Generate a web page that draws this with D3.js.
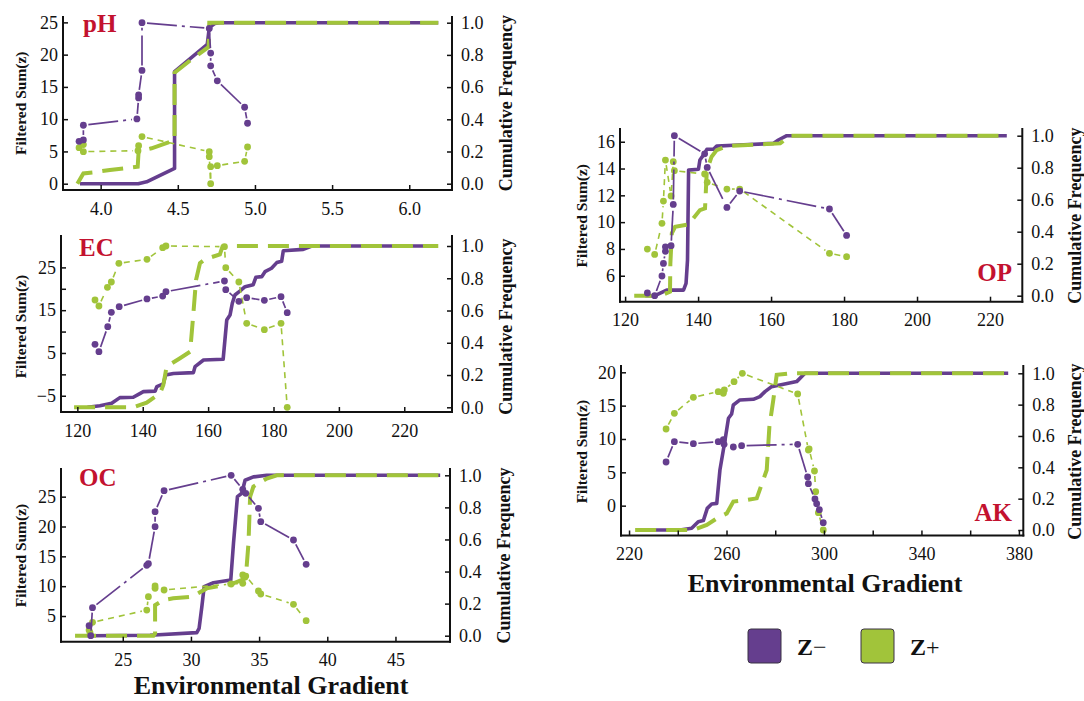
<!DOCTYPE html>
<html>
<head>
<meta charset="utf-8">
<script src="https://cdn.jsdelivr.net/npm/d3@7"></script>
<style>
  body { margin: 0; background: #fff; }
  text { font-family: "Liberation Serif", "Times New Roman", serif; }
</style>
</head>
<body>
<svg id="chart" width="1084" height="701"></svg>
<script>
// ---------- pH ----------
const phSumzMinus = [[3.86,6.57],[3.888,6.78],[3.888,9.06],[4.235,10.04],[4.246,13.3],[4.246,13.77],[4.268,17.55],[4.268,24.95],[4.704,24.07],[4.713,20.24],[4.713,18.27],[4.756,15.94],[4.933,11.85],[4.952,9.37]];
const phSumzPlus  = [[3.86,5.59],[3.888,6.06],[3.888,4.97],[4.242,5.12],[4.246,5.9],[4.268,7.3],[4.704,4.97],[4.704,4.19],[4.713,0.0],[4.713,2.64],[4.756,2.8],[4.933,3.47],[4.952,5.69]];
const phCfMinus = [[3.866,0],[4.244,0],[4.298,0.012],[4.479,0.095],[4.479,0.696],[4.691,0.865],[4.704,0.969],[4.741,0.996],[4.773,1],[6.188,1]];
const phCfPlus  = [[3.849,0],[3.888,0.064],[3.95,0.07],[4.06,0.085],[4.24,0.105],[4.246,0.2],[4.33,0.22],[4.479,0.27],[4.479,0.69],[4.6,0.78],[4.7,0.85],[4.704,1],[6.188,1]];
const phXTicks = [4.0, 4.5, 5.0, 5.5, 6.0];
const phYTicks = [0, 5, 10, 15, 20, 25];

// ---------- EC ----------
const ecSumzMinus = [[125.4,7.02],[126.6,5.3],[129.3,11.15],[130.4,14.5],[132.8,15.82],[141.3,17.62],[146.1,18.3],[147.1,19.33],[165.0,21.82],[165.4,19.8],[169.4,17.07],[171.8,17.93],[177.2,17.3],[182.3,18.16],[184.2,14.42]];
const ecSumzPlus  = [[125.4,17.38],[126.6,15.98],[129.2,20.34],[130.4,21.59],[132.7,25.95],[141.3,26.88],[146.1,29.61],[147.1,30.0],[165.0,29.84],[165.4,24.94],[169.4,21.59],[171.8,11.93],[177.2,10.45],[182.3,11.93],[184.2,-7.7]];
const ecCfMinus = [[123.1,0],[126.9,0.01],[130.5,0.025],[133.0,0.06],[137.1,0.062],[138.7,0.08],[140.2,0.097],[143.8,0.1],[144.3,0.128],[146.3,0.145],[147.0,0.2],[149.4,0.21],[155.5,0.215],[156.0,0.252],[158.6,0.293],[164.6,0.298],[165.7,0.541],[166.7,0.572],[167.4,0.645],[168.2,0.696],[169.7,0.72],[171.3,0.748],[173.8,0.76],[174.6,0.806],[176.4,0.81],[177.4,0.841],[179.4,0.862],[181.0,0.897],[182.5,0.905],[183.0,0.971],[189.1,0.979],[191.7,1],[226.8,1]];
const ecCfPlus  = [[119.0,0],[137.1,0],[141.2,0.029],[145.3,0.087],[146.3,0.138],[147.3,0.252],[151.4,0.304],[154.5,0.345],[155.5,0.583],[156.3,0.789],[157.5,0.893],[159.0,0.917],[163.6,0.948],[164.4,0.996],[165.7,1],[230.4,1]];
const ecXTicks = [120, 140, 160, 180, 200, 220];
const ecYTicks = [-5, 0, 5, 10, 15, 20, 25];
const ecYLabels = [-5, 5, 15, 25];

// ---------- OC ----------
const ocSumzMinus = [[22.53,3.38],[22.65,1.7],[22.78,6.4],[26.76,13.49],[26.88,13.77],[27.37,19.97],[27.37,22.49],[28.03,26.0],[32.95,28.58],[33.8,26.23],[34.02,25.56],[34.95,23.04],[35.12,20.81],[37.52,17.74],[38.45,13.66]];
const ocSumzPlus  = [[22.53,2.65],[22.6,2.2],[22.78,3.94],[26.76,6.0],[26.88,8.24],[27.37,9.64],[27.37,10.03],[28.03,9.36],[32.95,10.36],[33.8,10.47],[33.8,11.87],[34.02,11.7],[34.95,9.19],[35.12,8.69],[37.52,6.96],[38.45,4.22]];
const ocCfMinus = [[22.65,0],[27.0,0.003],[30.43,0.019],[30.6,0.046],[30.8,0.18],[30.97,0.306],[31.65,0.33],[32.92,0.347],[33.12,0.576],[33.41,0.867],[33.73,0.888],[33.97,0.969],[34.58,0.99],[35.56,1],[48.28,1]];
const ocCfPlus  = [[21.5,0],[27.25,0],[27.37,0.015],[27.37,0.19],[27.98,0.222],[28.7,0.233],[30.06,0.243],[31.16,0.295],[33.12,0.326],[34.02,0.358],[34.22,0.576],[34.34,0.867],[34.58,0.93],[35.56,0.98],[36.3,1],[48.15,1]];
const ocXTicks = [25, 30, 35, 40, 45];
const ocYTicks = [5, 10, 15, 20, 25];

// ---------- OP ----------
const opSumzMinus = [[126.1,4.71],[128.1,4.51],[130.1,5.98],[130.5,6.92],[131.05,7.82],[131.05,8.16],[132.6,8.24],[133.2,11.32],[133.5,16.45],[141.8,15.1],[142.5,14.08],[147.9,11.1],[151.4,12.32],[176.0,10.98],[180.7,9.01]];
const opSumzPlus  = [[126.1,7.99],[128.1,7.59],[130.1,9.91],[130.5,11.57],[131.05,14.63],[132.6,11.95],[133.2,14.51],[133.5,13.84],[141.8,13.59],[142.5,12.97],[147.9,12.47],[151.4,12.47],[176.0,7.67],[180.7,7.42]];
const opCfMinus = [[125.5,0],[128.2,0],[130.5,0.025],[131.4,0.035],[136.0,0.035],[136.7,0.077],[137.1,0.223],[137.4,0.785],[140.1,0.79],[140.5,0.848],[141.5,0.88],[142.4,0.915],[144.2,0.915],[145.1,0.935],[149.7,0.94],[160.6,0.952],[162.0,0.973],[164.3,1],[224.6,1]];
const opCfPlus  = [[122.5,0],[129.6,0],[132.3,0.025],[132.4,0.2],[132.8,0.39],[133.7,0.43],[137.8,0.448],[138.7,0.483],[140.5,0.535],[141.9,0.546],[142.4,0.785],[143.7,0.869],[145.1,0.91],[147.9,0.935],[158.8,0.948],[162.5,0.952],[165.2,1],[225.0,1]];
const opXTicks = [120, 140, 160, 180, 200, 220];
const opYTicks = [6, 8, 10, 12, 14, 16];

// ---------- AK ----------
const akSumzMinus = [[235.2,6.55],[238.6,9.6],[246.4,9.3],[256.6,9.6],[258.7,9.9],[259.0,9.2],[262.8,8.8],[266.2,9.0],[289.2,9.2],[293.3,4.3],[293.6,3.3],[296.3,1.0],[297.0,0.3],[298.1,-0.6],[299.7,-2.55]];
const akSumzPlus  = [[235.2,11.5],[238.6,13.85],[246.4,16.25],[256.6,17.1],[258.7,16.85],[259.1,17.35],[263.1,18.6],[266.5,19.85],[289.2,16.75],[293.6,8.35],[293.9,8.5],[296.1,5.2],[296.6,2.1],[297.7,-1.05],[299.7,-3.65]];
const akCfMinus = [[227.9,0],[240.9,0],[245.7,0.011],[248.4,0.053],[250.5,0.06],[252.1,0.138],[253.9,0.166],[256.0,0.17],[257.3,0.383],[259.4,0.574],[260.8,0.713],[262.1,0.74],[262.8,0.798],[265.5,0.83],[271.0,0.834],[273.7,0.851],[275.8,0.883],[278.5,0.915],[281.9,0.925],[288.8,0.947],[292.2,1],[375.6,1]];
const akCfPlus  = [[222.5,0],[246.4,0],[251.9,0.032],[256.0,0.074],[260.1,0.106],[262.8,0.181],[268.3,0.191],[272.4,0.202],[276.5,0.383],[277.6,0.66],[279.2,0.83],[280.6,0.99],[286.1,1],[375.6,1]];
const akXTicks = [220, 240, 260, 280, 300, 320, 340, 360, 380];
const akXLabels = [220, 260, 300, 340, 380];
const akYTicks = [0, 5, 10, 15, 20];

// shared
const cfTicks = [0, 0.2, 0.4, 0.6, 0.8, 1.0];
const legendItems = [["Z", "\u2212"], ["Z", "+"]];

const PURPLE = "#653e8e";
const GREEN = "#a1c43a";
const RED = "#c3122f";
const INK = "#111";

const panels = [
  { title: "pH", minus: phSumzMinus, plus: phSumzPlus, cfMinus: phCfMinus, cfPlus: phCfPlus,
    xTicks: phXTicks, xLabels: phXTicks, xFmt: d3.format(".1f"), yTicks: phYTicks, yLabels: phYTicks,
    xDomain: [3.756, 6.277], x0: 63, x1: 452, cf0: 183.7, cf1: 22.7, top: 16, bottom: 190,
    titleX: 83, titleY: 32, titleAnchor: "start", leftTitleX: 26, rightTitleX: 512 },
  { title: "EC", minus: ecSumzMinus, plus: ecSumzPlus, cfMinus: ecCfMinus, cfPlus: ecCfPlus,
    xTicks: ecXTicks, xLabels: ecXTicks, xFmt: d3.format("d"), yTicks: ecYTicks, yLabels: ecYLabels,
    xDomain: [115.0, 234.6], x0: 61, x1: 452, cf0: 407.3, cf1: 246, top: 235, bottom: 412,
    titleX: 79, titleY: 256, titleAnchor: "start", leftTitleX: 26, rightTitleX: 512 },
  { title: "OC", minus: ocSumzMinus, plus: ocSumzPlus, cfMinus: ocCfMinus, cfPlus: ocCfPlus,
    xTicks: ocXTicks, xLabels: ocXTicks, xFmt: d3.format("d"), yTicks: ocYTicks, yLabels: ocYTicks,
    xDomain: [20.47, 49.0], x0: 61, x1: 450, cf0: 635.7, cf1: 475.3, top: 468, bottom: 641.7,
    titleX: 79, titleY: 486, titleAnchor: "start", leftTitleX: 26, rightTitleX: 510 },
  { title: "OP", minus: opSumzMinus, plus: opSumzPlus, cfMinus: opCfMinus, cfPlus: opCfPlus,
    xTicks: opXTicks, xLabels: opXTicks, xFmt: d3.format("d"), yTicks: opYTicks, yLabels: opYTicks,
    xDomain: [118.6, 228.85], x0: 620, x1: 1022.3, cf0: 295.7, cf1: 135.7, top: 128, bottom: 301.7,
    titleX: 1012, titleY: 281, titleAnchor: "end", leftTitleX: 587, rightTitleX: 1081 },
  { title: "AK", minus: akSumzMinus, plus: akSumzPlus, cfMinus: akCfMinus, cfPlus: akCfPlus,
    xTicks: akXTicks, xLabels: akXLabels, xFmt: d3.format("d"), yTicks: akYTicks, yLabels: akYTicks,
    xDomain: [216.7, 381.8], x0: 621, x1: 1023.3, cf0: 530, cf1: 373.3, top: 365, bottom: 535.5,
    titleX: 1012, titleY: 521, titleAnchor: "end", leftTitleX: 587, rightTitleX: 1081 }
];

const svg = d3.select("#chart");

function styleAxis(sel) {
  sel.attr("font-family", null).attr("font-size", null);
  sel.select(".domain").remove();
  sel.selectAll(".tick line").attr("stroke", INK).attr("stroke-width", 1.5);
  sel.selectAll(".tick text").attr("fill", INK).style("font-size", "18px");
}

// point-and-line series: segments stop short of each marker, dash pattern restarts per segment
function drawLinked(g, pts, color, width, dash) {
  const gap = 5;
  const segs = [];
  for (let i = 1; i < pts.length; i++) {
    const [ax, ay] = pts[i - 1], [bx, by] = pts[i];
    const L = Math.hypot(bx - ax, by - ay);
    if (L <= 2 * gap + 1) continue;
    const ux = (bx - ax) / L, uy = (by - ay) / L;
    segs.push([[ax + ux * gap, ay + uy * gap], [bx - ux * gap, by - uy * gap]]);
  }
  g.append("g").selectAll("path").data(segs).join("path")
    .attr("d", d => d3.line()(d))
    .attr("fill", "none").attr("stroke", color).attr("stroke-width", width)
    .attr("stroke-dasharray", dash);
  g.append("g").selectAll("circle").data(pts).join("circle")
    .attr("cx", d => d[0]).attr("cy", d => d[1]).attr("r", 3.4).attr("fill", color);
}

function drawPanel(p) {
  const g = svg.append("g");
  const x = d3.scaleLinear().domain(p.xDomain).range([p.x0, p.x1]);
  const yR = d3.scaleLinear().domain([0, 1]).range([p.cf0, p.cf1]);
  const yL = d3.scaleLinear()
    .domain(d3.extent(p.minus.concat(p.plus), d => d[1]))
    .range([p.cf0, p.cf1]);

  // cumulative frequency curves (right axis)
  const cfLine = d3.line().x(d => x(d[0])).y(d => yR(d[1]));
  g.append("path").datum(p.cfMinus).attr("d", cfLine)
    .attr("fill", "none").attr("stroke", PURPLE).attr("stroke-width", 3.6)
    .attr("stroke-linejoin", "round");
  g.append("path").datum(p.cfPlus).attr("d", cfLine)
    .attr("fill", "none").attr("stroke", GREEN).attr("stroke-width", 4)
    .attr("stroke-dasharray", "21,10");

  // filtered sum(z) series (left axis)
  const toPx = d => [x(d[0]), yL(d[1])];
  drawLinked(g, p.plus.map(toPx), GREEN, 1.6, "6,5");
  drawLinked(g, p.minus.map(toPx), PURPLE, 1.7, "30,5,3,5");

  // axes (ticks point inward)
  const leftSet = new Set(p.yLabels);
  g.append("g").attr("transform", `translate(${p.x0},0)`)
    .call(d3.axisLeft(yL).tickValues(p.yTicks).tickSize(-5).tickPadding(5)
      .tickFormat(d => leftSet.has(d) ? d3.format("d")(d) : ""))
    .call(styleAxis);
  g.append("g").attr("transform", `translate(${p.x1},0)`)
    .call(d3.axisRight(yR).tickValues(cfTicks).tickSize(-5).tickPadding(9)
      .tickFormat(d3.format(".1f")))
    .call(styleAxis);
  const botSet = new Set(p.xLabels);
  g.append("g").attr("transform", `translate(0,${p.bottom})`)
    .call(d3.axisBottom(x).tickValues(p.xTicks).tickSize(-5).tickPadding(12)
      .tickFormat(d => botSet.has(d) ? p.xFmt(d) : ""))
    .call(styleAxis);

  // spines
  const sp = g.append("g").attr("stroke", INK).attr("stroke-width", 2).attr("fill", "none");
  sp.append("line").attr("x1", p.x0).attr("x2", p.x0).attr("y1", p.top).attr("y2", p.bottom + 1);
  sp.append("line").attr("x1", p.x1).attr("x2", p.x1).attr("y1", p.top).attr("y2", p.bottom + 1);
  sp.append("line").attr("x1", p.x0 - 1).attr("x2", p.x1 + 1).attr("y1", p.bottom).attr("y2", p.bottom);

  // panel name
  g.append("text").attr("x", p.titleX).attr("y", p.titleY)
    .attr("text-anchor", p.titleAnchor).attr("fill", RED)
    .style("font-size", "25px").style("font-weight", "bold").text(p.title);

  // axis titles
  const cy = (p.cf0 + p.cf1) / 2;
  g.append("text").attr("transform", `translate(${p.leftTitleX},${cy}) rotate(-90)`)
    .attr("text-anchor", "middle").attr("fill", INK)
    .style("font-size", "15.5px").style("font-weight", "bold").text("Filtered Sum(z)");
  g.append("text").attr("transform", `translate(${p.rightTitleX},${cy}) rotate(-90)`)
    .attr("text-anchor", "middle").attr("fill", INK)
    .style("font-size", "18px").style("font-weight", "bold").text("Cumulative Frequency");
}

panels.forEach(drawPanel);

// x-axis titles for both columns
[[271, 694], [825, 592]].forEach(([cx, by]) => {
  svg.append("text").attr("x", cx).attr("y", by).attr("text-anchor", "middle")
    .attr("fill", INK).style("font-size", "26px").style("font-weight", "bold")
    .text("Environmental Gradient");
});

// legend
const legend = svg.append("g");
const legendColors = [PURPLE, GREEN];
const legendX = [748, 861];
legendItems.forEach((item, i) => {
  legend.append("rect").attr("x", legendX[i]).attr("y", 629).attr("width", 33).attr("height", 34)
    .attr("rx", 3).attr("fill", legendColors[i]).attr("stroke", "#3b3344").attr("stroke-width", 1);
  const t = legend.append("text").attr("x", legendX[i] + 49).attr("y", 655)
    .attr("fill", INK).style("font-size", "24px");
  t.append("tspan").style("font-weight", "bold").text(item[0]);
  t.append("tspan").style("font-weight", "normal").text(item[1]);
});
</script>
</body>
</html>
